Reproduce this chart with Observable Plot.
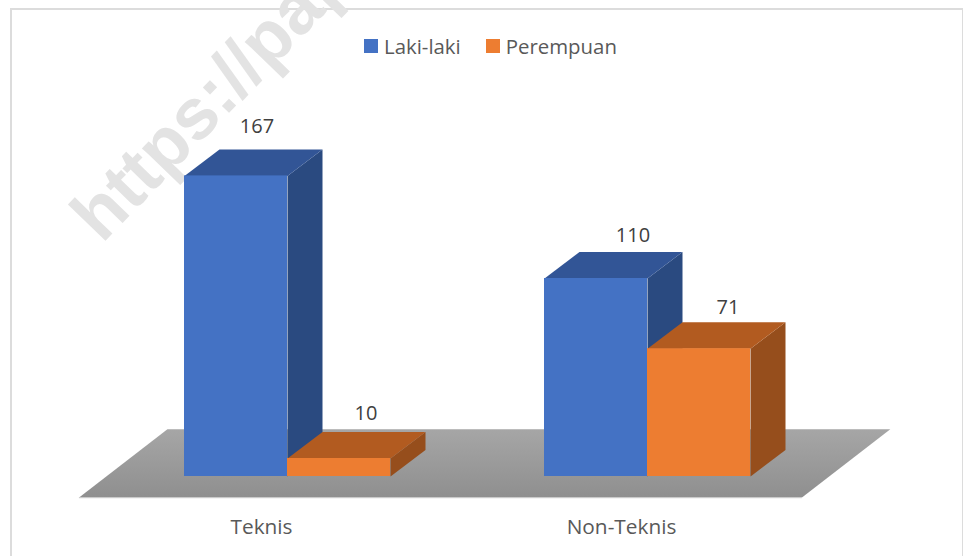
<!DOCTYPE html>
<html>
<head>
<meta charset="utf-8">
<script src="https://cdn.jsdelivr.net/npm/d3@7"></script>
<script src="https://cdn.jsdelivr.net/npm/@observablehq/plot@0.6"></script>
<style>
  html, body { margin: 0; padding: 0; background: #fff; overflow: hidden; }
  #page { position: relative; width: 963px; height: 556px; overflow: hidden; font-family: "Open Sans", sans-serif; }
  #frame { position: absolute; left: 10px; top: 8px; width: 950px; height: 600px; border: 2px solid #dcdcdc; box-sizing: content-box; }
  #chart { position: absolute; left: 0; top: 0; }
  #legend { position: absolute; top: 32px; left: 364px; display: flex; align-items: center; font-size: 20.4px; color: #595959; line-height: 28px; white-space: nowrap; }
  #legend i { display: inline-block; width: 14px; height: 14px; margin-right: 6px; }
  #legend span { display: flex; align-items: center; margin-right: 25px; }
  #watermark { position: absolute; left: 110px; top: 180px; transform-origin: 0 100%; transform: rotate(-46deg); font: bold 72px "Liberation Sans", sans-serif; color: #e3e3e3; line-height: 1; white-space: nowrap; }
</style>
</head>
<body>
<div id="page">
  <div id="frame"></div>
  <div id="watermark">https://pap</div>
  <div id="chart"></div>
  <div id="legend"></div>
</div>
<script>
const categories = ["Teknis", "Non-Teknis"];
const seriesNames = ["Laki-laki", "Perempuan"];
const lakiLaki = [167, 110];
const perempuan = [10, 71];
const seriesValues = [lakiLaki, perempuan];

// styles
const frontColors = ["#4472c4", "#ed7d31"];
const sideColors = ["#2a4a80", "#964e1c"];
const topColors = ["#325596", "#b25b20"];

// layout of the 3D projection, in scale units
const pxPerGroup = 360, pxPerUnit = 1.8, originX = 287, originY = 476;
const barW = 103 / pxPerGroup;
const depthX = 35 / pxPerGroup, depthY = 26.5 / pxPerUnit;
const floorLeft = -0.578, floorRight = 1.43, floorFront = -11.5, floorBack = 26.3;
const floorShift = 88 / pxPerGroup;

// label nudges (px): [dx, dy] per series, per category
const labelNudge = [[[21, -49], [37, -43]], [[27, -45], [29, -41]]];

const rows = [];
seriesValues.forEach((vals, s) => vals.forEach((v, c) => {
  rows.push({series: s, cat: c, value: v, x1: c + (s - 1) * barW, x2: c + s * barW});
}));

const faces = [];
rows.forEach((r, i) => {
  const push = (id, color, pts) => pts.forEach(([x, y]) => faces.push({id: id + i, color, x, y}));
  push("side", sideColors[r.series], [[r.x2, 0], [r.x2 + depthX, depthY], [r.x2 + depthX, r.value + depthY], [r.x2, r.value]]);
  push("top", topColors[r.series], [[r.x1, r.value], [r.x1 + depthX, r.value + depthY], [r.x2 + depthX, r.value + depthY], [r.x2, r.value]]);
});

const floor = [
  {x: floorLeft, y: floorFront}, {x: floorRight, y: floorFront},
  {x: floorRight + floorShift, y: floorBack}, {x: floorLeft + floorShift, y: floorBack}, {x: floorLeft, y: floorFront}
];

function gradient() {
  const ns = "http://www.w3.org/2000/svg";
  const defs = document.createElementNS(ns, "defs");
  defs.innerHTML = '<linearGradient id="floorGrad" x1="0" y1="0" x2="0" y2="1"><stop offset="0" stop-color="#a6a6a6"/><stop offset="1" stop-color="#8f8f8f"/></linearGradient>';
  return defs;
}

const chart = Plot.plot({
  width: 963,
  height: 556,
  marginTop: 8,
  marginBottom: 556 - originY,
  marginLeft: 0,
  marginRight: 0,
  style: {background: "transparent", overflow: "visible"},
  x: {domain: [0, 1], range: [originX, originX + pxPerGroup]},
  y: {domain: [0, 100], range: [originY, originY - 100 * pxPerUnit], axis: null},
  marks: [
    gradient,
    Plot.line(floor, {x: "x", y: "y", fill: "url(#floorGrad)", stroke: "none"}),
    Plot.ruleY([floorFront], {x1: floorLeft, x2: floorRight, stroke: "#c4c4c4", strokeWidth: 1, dy: 0.5}),
    Plot.line(faces, {x: "x", y: "y", z: "id", fill: {value: "color", scale: null}, stroke: "none"}),
    Plot.rectY(rows, {x1: "x1", x2: "x2", y1: 0, y2: "value", fill: d => frontColors[d.series], inset: 0}),
    ...rows.map(r => Plot.text([r], {
      x: d => d.x1 + barW / 2, y: "value", text: d => String(d.value),
      dx: labelNudge[r.series][r.cat][0], dy: labelNudge[r.series][r.cat][1],
      fontSize: 20, fill: "#404040", fontFamily: "Open Sans"
    })),
    Plot.axisX({
      ticks: [0, 1], tickFormat: i => categories[i], tickSize: 0, tickPadding: 43,
      dx: -26, label: null, fontSize: 20.8, color: "#595959", fill: "#595959", fontFamily: "Open Sans"
    })
  ]
});
document.getElementById("chart").appendChild(chart);

const legend = document.getElementById("legend");
seriesNames.forEach((n, i) => {
  const s = document.createElement("span");
  s.innerHTML = `<i style="background:${frontColors[i]}"></i>${n}`;
  legend.appendChild(s);
});
</script>
</body>
</html>
